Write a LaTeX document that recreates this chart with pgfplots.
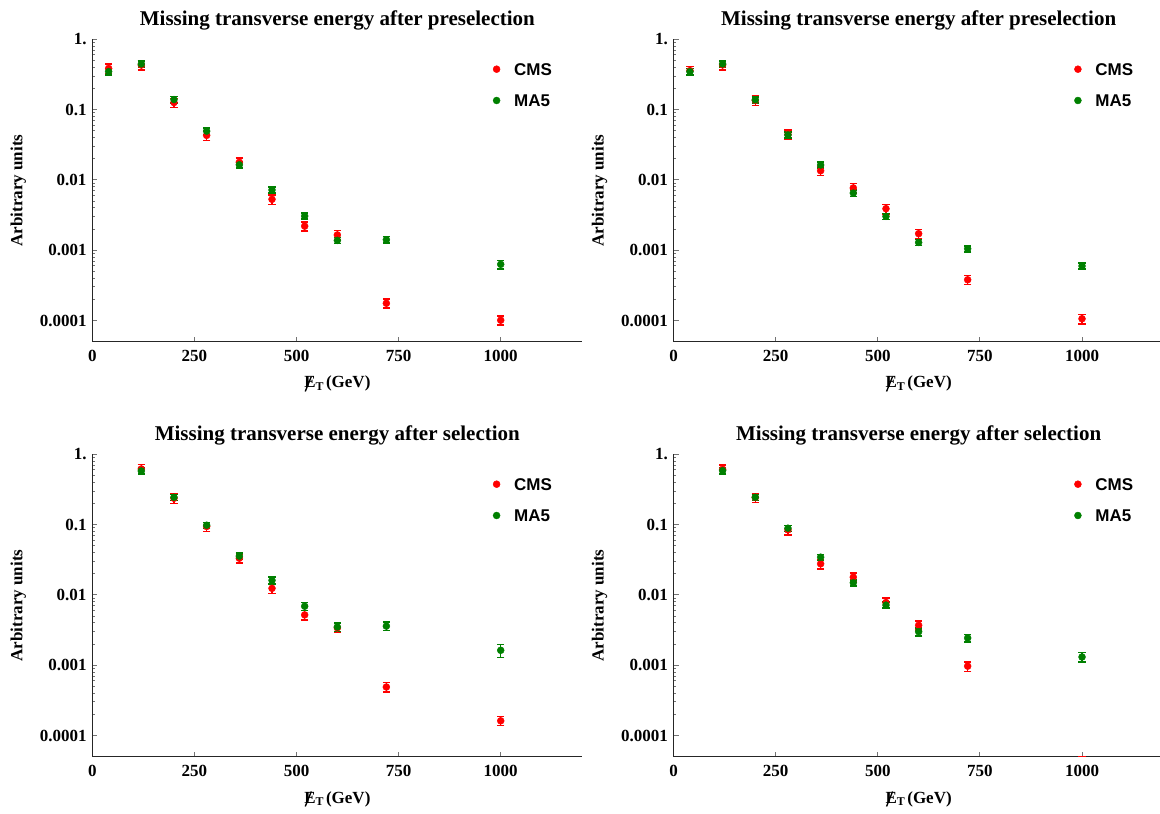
\documentclass[border=0pt]{standalone}
\usepackage{fontspec}
\setmainfont{Liberation Serif}
\newfontfamily\legsans{Liberation Sans}
\usepackage{graphicx}
\usepackage{pgfplots}
\usepackage{pgfplotstable}
\pgfplotsset{compat=1.18}
\definecolor{cmsred}{RGB}{255,0,0}
\definecolor{magreen}{RGB}{0,128,0}
\newcommand\tickfont{\fontsize{17}{20}\selectfont\bfseries}
\newcommand\titlefont{\fontsize{21}{24}\selectfont\bfseries}
\newcommand\legfont{\legsans\fontsize{17}{20}\selectfont\bfseries}
\newcommand\met{\makebox[0pt][l]{\hspace{0.02em}\raisebox{-0.22em}{\rotatebox{68}{\rule{0.95em}{0.08em}}}}E}

% x  y  error
\pgfplotstableread{
x y e
40 0.385 0.058
120 0.43 0.065
200 0.126 0.019
280 0.043 0.0065
360 0.0178 0.0027
440 0.0053 0.0008
520 0.0022 0.00033
600 0.00165 0.00025
720 0.000176 0.000026
1000 0.000101 0.000015
}\tlcms
\pgfplotstableread{
x y e
40 0.347 0.035
120 0.446 0.045
200 0.139 0.014
280 0.0494 0.005
360 0.0164 0.0016
440 0.0072 0.0007
520 0.00306 0.0003
600 0.00138 0.00014
720 0.00141 0.00015
1000 0.00063 0.00009
}\tlma
\pgfplotstableread{
x y e
40 0.359 0.054
120 0.432 0.065
200 0.135 0.02
280 0.0443 0.0066
360 0.0135 0.002
440 0.0077 0.0012
520 0.0039 0.0006
600 0.00172 0.00026
720 0.00038 0.000057
1000 0.000106 0.000016
}\trcms
\pgfplotstableread{
x y e
40 0.347 0.035
120 0.446 0.045
200 0.138 0.014
280 0.0436 0.0044
360 0.0163 0.0016
440 0.0065 0.00065
520 0.00303 0.0003
600 0.00129 0.00013
720 0.00105 0.0001
1000 0.000597 0.00006
}\trma
\pgfplotstableread{
x y e
120 0.619 0.093
200 0.237 0.036
280 0.094 0.014
360 0.0333 0.005
440 0.0124 0.0019
520 0.0052 0.0008
600 0.0034 0.0005
720 0.00049 0.000074
1000 0.000162 0.000024
}\blcms
\pgfplotstableread{
x y e
120 0.58 0.058
200 0.245 0.025
280 0.098 0.01
360 0.0356 0.0036
440 0.0161 0.0018
520 0.0069 0.0009
600 0.0035 0.0005
720 0.0036 0.0005
1000 0.00163 0.00035
}\blma
\pgfplotstableread{
x y e
120 0.612 0.092
200 0.243 0.036
280 0.0842 0.0126
360 0.0277 0.0042
440 0.0179 0.0027
520 0.0078 0.0012
600 0.0037 0.00055
720 0.00097 0.00015
1000 0.000045 0.000005
}\brcms
\pgfplotstableread{
x y e
120 0.586 0.059
200 0.245 0.025
280 0.0889 0.009
360 0.0344 0.0034
440 0.0149 0.0015
520 0.00717 0.0007
600 0.0030 0.0004
720 0.00244 0.0003
1000 0.00131 0.0002
}\brma

\pgfplotsset{
  every axis/.append style={
    scale only axis, width=490.1pt, height=302.4pt,
    xmin=0, xmax=1200, ymin=5e-5, ymax=1,
    axis x line*=bottom, axis y line*=left,
    x axis line style={-}, y axis line style={-},
    axis line style={line width=1.3pt, black!85},
    tick align=inside, major tick length=5pt,
    tick style={line width=1pt, black!55},
    xtick={0,250,500,750,1000}, xticklabels={0,250,500,750,1000},
    ytick={1e-4,1e-3,1e-2,1e-1,1}, yticklabels={0.0001,0.001,0.01,0.1,1.},
    minor y tick num=0,
    ticklabel style={font=\tickfont},
    xticklabel style={anchor=base, yshift=-20pt},
    yticklabel style={inner sep=5.6pt},
    title style={at={(rel axis cs:0.5,1)}, anchor=base, yshift=8pt, font=\titlefont},
    xlabel style={at={(rel axis cs:0.5,0)}, anchor=base, yshift=-46.3pt, font=\tickfont},
    ylabel style={at={(rel axis cs:-0.151,0.5)}, anchor=center, font=\tickfont},
    xlabel={\met\textsubscript{T}\hspace{2pt}(GeV)},
    ylabel={Arbitrary units},
    legend style={draw=none, fill=none, inner sep=0pt, font=\legfont,
      at={(rel axis cs:0.8174,0.922)}, anchor=north west, row sep=19.1pt,
      cells={anchor=west}, nodes={inner sep=0pt, text height=12.2pt, text depth=0pt}},
  },
}

\begin{document}
\begin{tikzpicture}
\useasboundingbox (0pt,0pt) rectangle (1160pt,814pt);

\begin{semilogyaxis}[at={(92.3pt,472.3pt)}, anchor=south west,
  title={Missing transverse energy after preselection}]
\addplot[only marks, mark=*, mark size=3.5pt, color=cmsred, mark options={draw=none, fill=cmsred},
  error bars/.cd, y dir=both, y explicit, error bar style={line width=1.5pt, color=cmsred},
  error mark options={rotate=90, mark size=3.6pt, line width=1.5pt, color=cmsred, draw=cmsred}]
  table[x=x, y=y, y error=e] {\tlcms};
\addlegendentry{\hspace{14pt}CMS}
\addplot[only marks, mark=*, mark size=3.5pt, color=magreen, mark options={draw=none, fill=magreen},
  error bars/.cd, y dir=both, y explicit, error bar style={line width=1.5pt, color=magreen},
  error mark options={rotate=90, mark size=3.6pt, line width=1.5pt, color=magreen, draw=magreen}]
  table[x=x, y=y, y error=e] {\tlma};
\addlegendentry{\hspace{14pt}MA5}
\end{semilogyaxis}

\begin{semilogyaxis}[at={(673.6pt,472.3pt)}, anchor=south west,
  title={Missing transverse energy after preselection}]
\addplot[only marks, mark=*, mark size=3.5pt, color=cmsred, mark options={draw=none, fill=cmsred},
  error bars/.cd, y dir=both, y explicit, error bar style={line width=1.5pt, color=cmsred},
  error mark options={rotate=90, mark size=3.6pt, line width=1.5pt, color=cmsred, draw=cmsred}]
  table[x=x, y=y, y error=e] {\trcms};
\addlegendentry{\hspace{14pt}CMS}
\addplot[only marks, mark=*, mark size=3.5pt, color=magreen, mark options={draw=none, fill=magreen},
  error bars/.cd, y dir=both, y explicit, error bar style={line width=1.5pt, color=magreen},
  error mark options={rotate=90, mark size=3.6pt, line width=1.5pt, color=magreen, draw=magreen}]
  table[x=x, y=y, y error=e] {\trma};
\addlegendentry{\hspace{14pt}MA5}
\end{semilogyaxis}

\begin{semilogyaxis}[at={(92.3pt,57.3pt)}, anchor=south west,
  title={Missing transverse energy after selection}]
\addplot[only marks, mark=*, mark size=3.5pt, color=cmsred, mark options={draw=none, fill=cmsred},
  error bars/.cd, y dir=both, y explicit, error bar style={line width=1.5pt, color=cmsred},
  error mark options={rotate=90, mark size=3.6pt, line width=1.5pt, color=cmsred, draw=cmsred}]
  table[x=x, y=y, y error=e] {\blcms};
\addlegendentry{\hspace{14pt}CMS}
\addplot[only marks, mark=*, mark size=3.5pt, color=magreen, mark options={draw=none, fill=magreen},
  error bars/.cd, y dir=both, y explicit, error bar style={line width=1.5pt, color=magreen},
  error mark options={rotate=90, mark size=3.6pt, line width=1.5pt, color=magreen, draw=magreen}]
  table[x=x, y=y, y error=e] {\blma};
\addlegendentry{\hspace{14pt}MA5}
\end{semilogyaxis}

\begin{semilogyaxis}[at={(673.6pt,57.3pt)}, anchor=south west,
  title={Missing transverse energy after selection}]
\addplot[only marks, mark=*, mark size=3.5pt, color=cmsred, mark options={draw=none, fill=cmsred},
  error bars/.cd, y dir=both, y explicit, error bar style={line width=1.5pt, color=cmsred},
  error mark options={rotate=90, mark size=3.6pt, line width=1.5pt, color=cmsred, draw=cmsred}]
  table[x=x, y=y, y error=e] {\brcms};
\addlegendentry{\hspace{14pt}CMS}
\addplot[only marks, mark=*, mark size=3.5pt, color=magreen, mark options={draw=none, fill=magreen},
  error bars/.cd, y dir=both, y explicit, error bar style={line width=1.5pt, color=magreen},
  error mark options={rotate=90, mark size=3.6pt, line width=1.5pt, color=magreen, draw=magreen}]
  table[x=x, y=y, y error=e] {\brma};
\addlegendentry{\hspace{14pt}MA5}
\end{semilogyaxis}
\end{tikzpicture}
\end{document}
